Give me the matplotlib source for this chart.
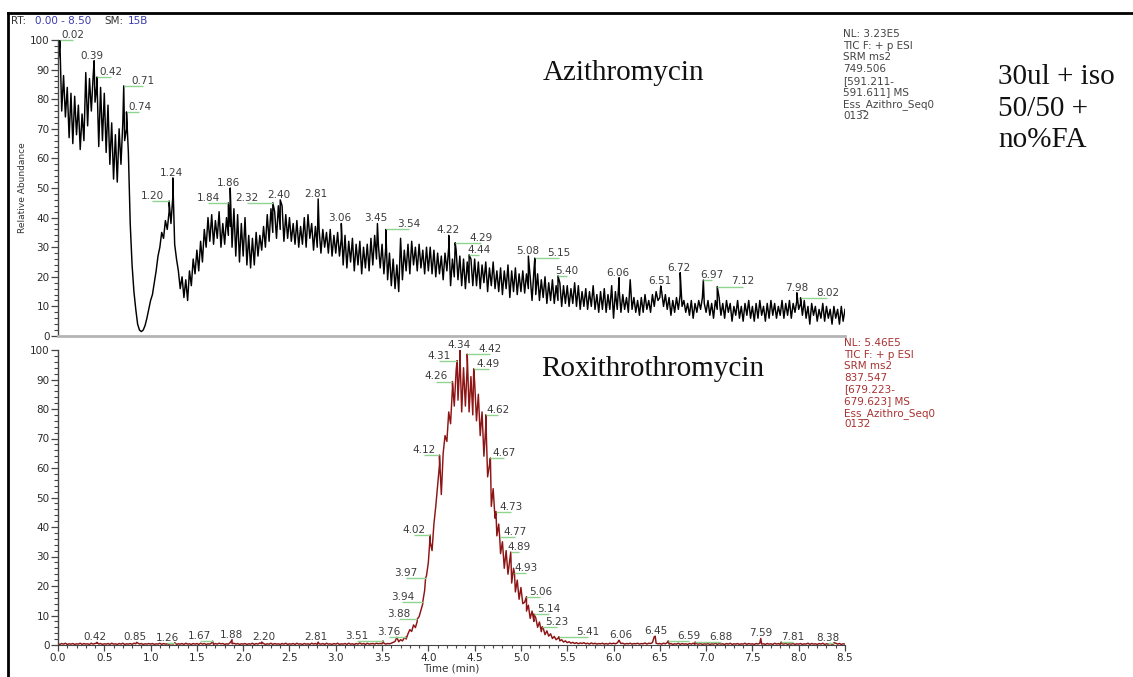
import numpy as np
import matplotlib
matplotlib.use("Agg")
import matplotlib.pyplot as plt
from matplotlib.lines import Line2D
from matplotlib.ticker import MultipleLocator, FormatStrFormatter

# Azithromycin SRM trace, one reading every 0.02 min (each row covers 0.5 min)
azi_abundance = [
    92, 99, 76, 88, 74, 84, 67, 82, 65, 81, 68, 78, 63, 75, 66, 89, 71, 87, 76, 88, 79, 85, 64, 84, 66,
    82, 62, 78, 58, 72, 53, 68, 52, 70, 58, 72, 66, 70, 62, 38, 24, 15, 9, 4, 2, 1.5, 2, 3.5, 6, 9,
    12, 14, 18, 22, 27, 30, 35, 33, 39, 36, 42, 38, 47, 31, 26, 22, 16, 20, 13, 19, 12, 22, 17, 26, 21,
    29, 22, 32, 25, 36, 30, 40, 32, 41, 31, 39, 33, 42, 30, 38, 31, 40, 34, 37, 30, 43, 27, 41, 25, 38,
    27, 40, 24, 34, 23, 33, 24, 35, 27, 34, 29, 37, 30, 41, 32, 43, 35, 42, 33, 44, 36, 44, 32, 41, 33,
    40, 32, 38, 31, 39, 30, 37, 31, 40, 30, 41, 33, 38, 29, 37, 30, 36, 28, 36, 30, 35, 28, 36, 27, 34,
    28, 35, 27, 33, 24, 34, 23, 32, 25, 33, 22, 31, 24, 32, 21, 30, 23, 31, 22, 33, 24, 34, 26, 31, 23,
    31, 21, 30, 19, 28, 17, 26, 16, 24, 15, 33, 19, 29, 22, 31, 21, 32, 24, 30, 22, 31, 23, 29, 21, 30,
    22, 30, 21, 29, 20, 28, 21, 27, 19, 28, 22, 30, 17, 26, 20, 29, 19, 27, 17, 26, 16, 25, 18, 26, 17,
    26, 17, 25, 16, 24, 18, 25, 15, 23, 17, 25, 16, 22, 15, 23, 14, 22, 16, 24, 13, 22, 15, 23, 14, 21,
    15, 22, 14.5, 21, 16, 20, 12, 22, 14, 21, 12, 19, 13, 20, 11, 18, 12, 19, 11, 17, 12, 18, 10, 17, 11,
    17, 10, 16, 11, 18, 10, 17, 9, 15, 10, 16, 9, 15, 10, 17, 9, 14, 8, 15, 9, 16, 8, 14, 9, 17,
    6, 15, 9, 16, 8, 14, 9, 13, 8, 19, 9, 13, 8, 12, 7, 13, 8, 14, 9, 12, 8, 14, 10, 15, 12,
    13, 15, 10, 14, 9, 13, 7, 12, 8, 13, 9, 14, 10, 12, 8, 11, 7, 12, 6, 11, 8, 12, 9, 13, 11,
    8, 12, 7, 11, 6, 12, 9, 13, 7, 11, 6, 12, 8, 11, 5, 10, 7, 12, 6, 10, 5, 11, 7, 12, 6,
    10, 5, 11, 6, 12, 7, 10, 5, 11, 6, 12, 7, 11, 6, 10, 7, 12, 6, 11, 7, 12, 6, 11, 8, 12,
    9, 11, 7, 12, 6, 10, 4, 11, 7, 10, 5, 9, 6, 11, 5, 10, 6, 9, 4, 10, 6, 9, 4, 10, 5,
    9,
]

# Roxithromycin SRM trace on the same 0.02 min grid
roxi_abundance = [
    0.4, 0.2, 0.5, 0.3, 0.6, 0.2, 0.4, 0.3, 0.5, 0.2, 0.4, 0.3, 0.6, 0.2, 0.5, 0.3, 0.4, 0.2, 0.6, 0.3, 0.5, 0.7, 0.3, 0.5, 0.2,
    0.4, 0.3, 0.5, 0.2, 0.6, 0.3, 0.4, 0.2, 0.5, 0.3, 0.6, 0.2, 0.4, 0.3, 0.5, 0.2, 0.6, 0.4, 0.7, 0.3, 0.5, 0.2, 0.4, 0.3, 0.5,
    0.3, 0.5, 0.2, 0.4, 0.3, 0.6, 0.2, 0.5, 0.3, 0.4, 0.2, 0.5, 0.3, 0.6, 0.2, 0.4, 0.3, 0.5, 0.2, 0.6, 0.3, 0.4, 0.2, 0.5, 0.3,
    0.5, 0.2, 0.6, 0.3, 0.5, 0.2, 0.4, 0.3, 0.7, 0.2, 0.5, 0.3, 0.6, 0.4, 0.5, 0.2, 0.4, 0.3, 0.8, 0.4, 0.6, 0.3, 0.5, 0.2, 0.4,
    0.3, 0.5, 0.2, 0.4, 0.3, 0.6, 0.2, 0.5, 0.3, 0.7, 0.4, 0.5, 0.2, 0.4, 0.3, 0.6, 0.2, 0.5, 0.3, 0.4, 0.2, 0.5, 0.3, 0.6, 0.2,
    0.4, 0.3, 0.5, 0.2, 0.6, 0.3, 0.4, 0.2, 0.5, 0.3, 0.4, 0.2, 0.6, 0.3, 0.5, 0.2, 0.4, 0.3, 0.5, 0.2, 0.6, 0.3, 0.4, 0.2, 0.5,
    0.3, 0.6, 0.2, 0.4, 0.3, 0.5, 0.2, 0.6, 0.3, 0.4, 0.2, 0.5, 0.3, 0.7, 0.3, 0.5, 0.2, 0.6, 0.3, 0.4, 0.5, 0.3, 0.6, 0.4, 0.5,
    0.4, 0.6, 0.3, 0.5, 0.4, 0.6, 0.9, 1.2, 2.6, 1.1, 1.8, 1.4, 2.4, 2.0, 3.8, 5.2, 4.6, 6.8, 5.9, 8.0, 9.6, 11.8, 14.0, 18.5, 23.5,
    28, 35, 32, 41, 47, 54, 61, 51, 65, 71, 69, 79, 75, 87, 81, 93, 83, 96, 79, 94, 81, 95, 79, 91, 78,
    89, 76, 85, 71, 79, 64, 74, 57, 61, 47, 53, 43, 37, 41, 31, 35, 26, 32, 24, 29, 21, 26, 18, 22, 15.5,
    19.5, 14, 14.5, 11.5, 13.5, 9, 11.5, 8, 9.2, 6, 7.8, 4.5, 5.8, 3.5, 4.8, 3, 3.8, 2.2, 2.9, 1.8, 2.3, 1.4, 1.8, 1.0, 1.4,
    0.8, 1.1, 0.6, 0.9, 0.5, 0.8, 0.4, 0.7, 0.5, 0.8, 0.4, 0.6, 0.3, 0.7, 0.4, 0.6, 0.3, 0.5, 0.4, 0.6, 0.3, 0.5, 0.3, 0.6, 0.4,
    0.6, 0.4, 0.7, 1.5, 0.5, 0.6, 0.3, 0.5, 0.4, 0.6, 0.3, 0.5, 0.4, 0.6, 0.3, 0.5, 0.4, 0.7, 0.3, 0.6, 0.5, 0.8, 2.8, 0.6, 0.4,
    0.5, 0.3, 0.6, 0.4, 0.8, 0.3, 0.5, 0.2, 0.4, 0.3, 0.6, 0.2, 0.5, 0.3, 0.4, 0.2, 0.5, 0.3, 0.6, 0.2, 0.4, 0.3, 0.5, 0.2, 0.4,
    0.3, 0.5, 0.2, 0.4, 0.3, 0.6, 0.2, 0.5, 0.3, 0.4, 0.2, 0.5, 0.3, 0.6, 0.2, 0.4, 0.3, 0.5, 0.2, 0.4, 0.3, 0.6, 0.2, 0.5, 0.3,
    0.4, 0.2, 0.5, 0.3, 0.6, 0.3, 0.4, 0.2, 0.5, 0.3, 0.4, 0.2, 0.6, 0.3, 0.5, 0.2, 0.4, 0.3, 0.6, 0.2, 0.4, 0.3, 0.5, 0.2, 0.4,
    0.3, 0.5, 0.2, 0.4, 0.3, 0.6, 0.2, 0.5, 0.3, 0.4, 0.2, 0.5, 0.3, 0.6, 0.2, 0.4, 0.3, 0.5, 0.2, 0.4, 0.6, 0.3, 0.5, 0.2, 0.4,
    0.3,
]

# labelled apexes: retention time (min) and relative abundance (%)
azi_peak_rt = [0.02, 0.39, 0.42, 0.71, 0.74, 1.20, 1.24, 1.84, 1.86, 2.32, 2.40, 2.81, 3.06, 3.45,
               3.54, 4.22, 4.29, 4.44, 5.08, 5.15, 5.40, 6.06, 6.51, 6.72, 6.97, 7.12, 7.98, 8.02]
azi_peak_ab = [100, 93, 87.5, 84.5, 75.7, 45.6, 53.4, 45, 50, 45, 46, 46.3, 38, 38,
               36, 34, 31.5, 27.4, 27, 26.3, 20.3, 19.7, 16.9, 21.4, 18.9, 16.7, 14.6, 12.9]

roxi_peak_rt = [0.42, 0.85, 1.26, 1.67, 1.88, 2.20, 2.81, 3.51, 3.76, 3.88, 3.94, 3.97, 4.02, 4.12,
                4.26, 4.31, 4.34, 4.42, 4.49, 4.62, 4.67, 4.73, 4.77, 4.89, 4.93, 5.06, 5.14, 5.23,
                5.41, 6.06, 6.45, 6.59, 6.88, 7.59, 7.81, 8.38]
roxi_peak_ab = [0.9, 0.9, 0.8, 1.3, 1.8, 1.0, 1.0, 1.4, 2.7, 8.8, 14.7, 22.7, 37.3, 64.4,
                89.3, 96.4, 100, 98.6, 93.6, 78.0, 63.4, 45.2, 36.7, 31.5, 24.4, 16.4, 10.5, 6.2,
                2.8, 1.6, 3.0, 1.4, 1.0, 2.2, 1.0, 0.8]

azi_info = ["NL: 3.23E5", "TIC F: + p ESI", "SRM ms2", "749.506", "[591.211-",
            "591.611] MS", "Ess_Azithro_Seq0", "0132"]
roxi_info = ["NL: 5.46E5", "TIC F: + p ESI", "SRM ms2", "837.547", "[679.223-",
             "679.623] MS", "Ess_Azithro_Seq0", "0132"]

# where each RT label is centred on the time axis (layout only)
azi_label_at = [0.16, 0.37, 0.57, 0.92, 0.88, 1.02, 1.23, 1.62, 1.84, 2.04, 2.38, 2.79, 3.04, 3.43,
                3.79, 4.21, 4.57, 4.55, 5.07, 5.41, 5.50, 6.05, 6.50, 6.71, 7.06, 7.40, 7.98, 8.31]
roxi_label_at = [0.40, 0.83, 1.18, 1.53, 1.875, 2.22, 2.79, 3.23, 3.57, 3.68, 3.72, 3.755, 3.84, 3.95,
                 4.08, 4.12, 4.33, 4.67, 4.65, 4.75, 4.82, 4.89, 4.94, 4.98, 5.06, 5.21, 5.30, 5.39,
                 5.72, 6.08, 6.46, 6.81, 7.16, 7.59, 7.94, 8.32]

W, H = 1133, 677
plt.rcParams["font.family"] = ["DejaVu Sans"]

fig = plt.figure(figsize=(W / 100, H / 100), dpi=100)
fig.patch.set_facecolor("white")


def px_box(x0, y0, x1, y1):
    return [x0 / W, 1 - y1 / H, (x1 - x0) / W, (y1 - y0) / H]


def trace(values, peak_rt, peak_ab):
    t = np.linspace(0, 8.5, len(values))
    t = np.concatenate([t, peak_rt])
    y = np.concatenate([values, peak_ab])
    order = np.argsort(t, kind="stable")
    return t[order], y[order]


def style_axes(ax):
    ax.set_xlim(0, 8.5)
    ax.set_ylim(0, 100)
    ax.patch.set_alpha(0)
    for side in ("top", "right"):
        ax.spines[side].set_visible(False)
    ax.spines["left"].set_color("#454545")
    ax.spines["left"].set_linewidth(1.0)
    ax.yaxis.set_major_locator(MultipleLocator(10))
    ax.yaxis.set_minor_locator(MultipleLocator(2))
    ax.tick_params(axis="y", which="major", length=5, width=0.9, color="#454545",
                   labelsize=7.5, labelcolor="#2a2a2a", pad=1)
    ax.tick_params(axis="y", which="minor", length=3, width=0.8, color="#454545")


def label_peaks(ax, rts, abunds, label_at):
    for rt, ab, lx in zip(rts, abunds, label_at):
        if abs(lx - rt) > 0.025:
            ax.plot([rt, lx], [ab, ab], color="#8fd48f", lw=1.0, clip_on=False,
                    solid_capstyle="butt", zorder=3)
        ax.annotate(f"{rt:.2f}", xy=(lx, ab), xytext=(0, 1.5), textcoords="offset points",
                    ha="center", va="baseline", fontsize=7.5, color="#3c3c3c",
                    annotation_clip=False, zorder=4)


ax_top = fig.add_axes(px_box(58, 40, 845, 336))
ax_bot = fig.add_axes(px_box(58, 350, 845, 645))

style_axes(ax_top)
style_axes(ax_bot)

# upper panel: no time axis, just a grey baseline
ax_top.spines["bottom"].set_color("#b4b4b4")
ax_top.spines["bottom"].set_linewidth(2)
ax_top.tick_params(axis="x", which="both", bottom=False, labelbottom=False)
ax_top.set_ylabel("Relative Abundance", fontsize=6.5, color="#333333", labelpad=2)

ax_bot.spines["bottom"].set_color("#454545")
ax_bot.xaxis.set_major_locator(MultipleLocator(0.5))
ax_bot.xaxis.set_minor_locator(MultipleLocator(0.1))
ax_bot.xaxis.set_major_formatter(FormatStrFormatter("%.1f"))
ax_bot.tick_params(axis="x", which="major", length=4, width=0.9, color="#454545",
                   labelsize=7.5, labelcolor="#2a2a2a", pad=1.5)
ax_bot.tick_params(axis="x", which="minor", length=2.5, width=0.8, color="#454545")
ax_bot.set_xlabel("Time (min)", fontsize=7.5, color="#333333", labelpad=0.5)

t, y = trace(azi_abundance, azi_peak_rt, azi_peak_ab)
ax_top.plot(t, y, color="black", lw=1.05, zorder=2)
t, y = trace(roxi_abundance, roxi_peak_rt, roxi_peak_ab)
ax_bot.plot(t, y, color="#8e1515", lw=1.05, zorder=2)

label_peaks(ax_top, azi_peak_rt, azi_peak_ab, azi_label_at)
label_peaks(ax_bot, roxi_peak_rt, roxi_peak_ab, roxi_label_at)

# compound names and run notes
serif = dict(family="Liberation Serif", fontsize=21, color="#111111", va="baseline")
fig.text(543 / W, 1 - 80 / H, "Azithromycin", **serif)
fig.text(541 / W, 1 - 376 / H, "Roxithrothromycin", **serif)
for i, line in enumerate(["30ul + iso", "50/50 +", "no%FA"]):
    fig.text(998 / W, 1 - (84 + 31.5 * i) / H, line, **serif)

# instrument header blocks
for i, line in enumerate(azi_info):
    fig.text(843 / W, 1 - (37 + 11.7 * i) / H, line, fontsize=7.5, color="#444444",
             va="baseline")
for i, line in enumerate(roxi_info):
    fig.text(844 / W, 1 - (346 + 11.6 * i) / H, line, fontsize=7.5, color="#a83232",
             va="baseline")

for x, txt, col in [(11, "RT:", "#333333"), (35, "0.00 - 8.50", "#3c3cb0"),
                    (104, "SM:", "#333333"), (128, "15B", "#3c3cb0")]:
    fig.text(x / W, 1 - 24 / H, txt, fontsize=7.5, color=col, va="baseline")

# frame around the chromatogram
fig.add_artist(Line2D([8 / W, 8 / W], [0, 1 - 13 / H], color="black", lw=2))
fig.add_artist(Line2D([8 / W, 1], [1 - 13 / H, 1 - 13 / H], color="black", lw=2))

fig.savefig("out.png", dpi=100, facecolor="white")
